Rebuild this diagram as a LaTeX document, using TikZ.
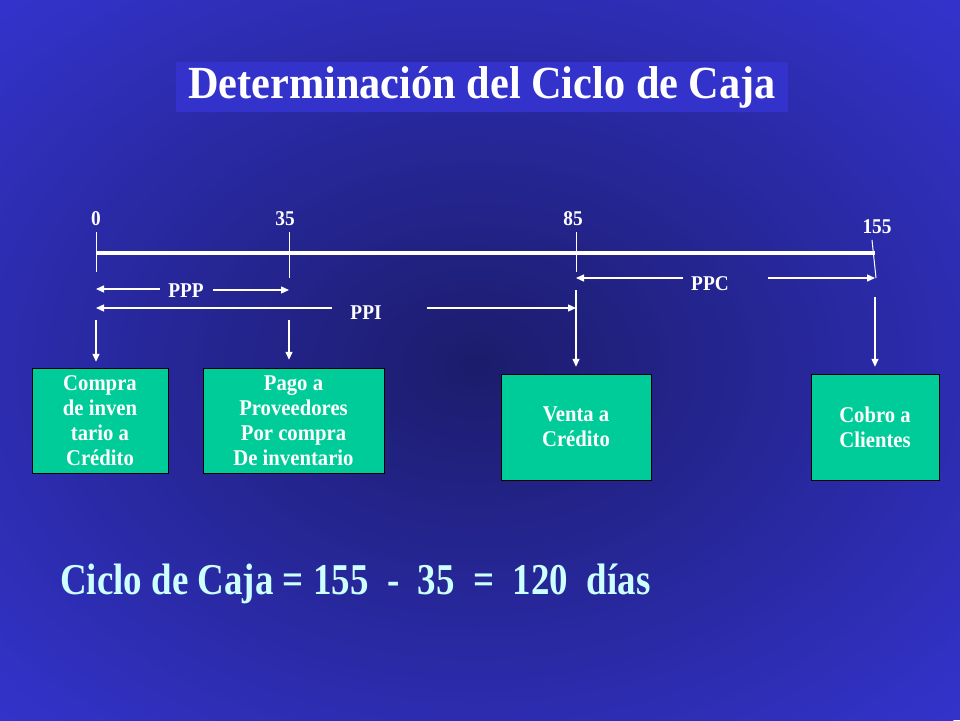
\documentclass[tikz,border=0pt]{standalone}
\usepackage{fontspec}
\setmainfont{Liberation Serif}[FakeStretch=0.92]
\newfontfamily\narrowserif{Liberation Serif}[FakeStretch=0.84]
\usepackage{tikz}
\usetikzlibrary{calc}
\usetikzlibrary{arrows.meta}
\definecolor{slideblue}{RGB}{51,51,204}
\definecolor{shadowblue}{RGB}{28,28,108}
\definecolor{boxgreen}{RGB}{0,204,153}
\definecolor{lightcyan}{RGB}{204,255,255}

\begin{document}
\begin{tikzpicture}[x=1pt, y=-1pt,
    every node/.style={text=white, font=\fontsize{21}{25}\selectfont\bfseries},
    eventbox/.style={draw=black, fill=boxgreen, align=center, inner sep=0pt,
      font=\fontsize{22.5}{25}\selectfont\bfseries},
    ticklines/.style={draw=white, line width=1pt},
    spanarrow/.style={draw=white, line width=1.3pt, -{Triangle[length=8pt,width=7pt]}}]
  \useasboundingbox (0,0) rectangle (960,720);
  \fill[slideblue] (0,0) rectangle (960,720);
  \begin{scope}
    \clip (0,0) rectangle (960,720);
    \shade[inner color=shadowblue, outer color=slideblue] (475,365) ellipse (680 and 500);
  \end{scope}
  \node[fill=slideblue, minimum width=612, minimum height=50,
    font=\fontsize{46}{50}\selectfont\bfseries] (title) at (482,87) {Determinación del Ciclo de Caja};
  % time line
  \coordinate (t0) at (96,253);
  \coordinate (t35) at (289,253);
  \coordinate (t85) at (576,253);
  \coordinate (t155) at (875,253);
  \draw[white, line width=4pt] (t0) -- (t155);
  \draw[ticklines] (t0) ++(0,-21) -- ++(0,40);
  \draw[ticklines] (t35) ++(0,-21) -- ++(0,46);
  \draw[ticklines] (t85) ++(0,-21) -- ++(0,40);
  \draw[ticklines] (t155) ++(-3,-13) -- ++(4,38);
  \node (n0) at (96,219) {0};
  \node (n35) at (285,219) {35};
  \node (n85) at (573,219) {85};
  \node (n155) at (877,227) {155};
  % periods
  \node (ppp) at (186,291) {PPP};
  \coordinate (pppL) at (160,289);
  \coordinate (pppR) at (213,290);
  \draw[spanarrow] (pppL) -- (pppL -| t0);
  \draw[spanarrow] (pppR) -- (pppR -| t35);
  \node (ppi) at (366,313) {PPI};
  \coordinate (ppiL) at (332,308);
  \coordinate (ppiR) at (427,308);
  \draw[spanarrow] (ppiL) -- (ppiL -| t0);
  \draw[spanarrow] (ppiR) -- (ppiR -| t85);
  \node (ppc) at (710,284) {PPC};
  \coordinate (ppcL) at (683,278);
  \coordinate (ppcR) at (768,278);
  \draw[spanarrow] (ppcL) -- (ppcL -| t85);
  \draw[spanarrow] (ppcR) -- (ppcR -| t155);
  % events
  \node[eventbox, minimum width=136, minimum height=105] (compra) at (100,420.5) {Compra\\de inven\\tario a\\Crédito};
  \node[eventbox, minimum width=181, minimum height=105] (pago) at (293.5,420.5) {Pago a\\Proveedores\\Por compra\\De inventario};
  \node[eventbox, minimum width=150, minimum height=106] (venta) at (576,427) {Venta a\\Crédito};
  \node[eventbox, minimum width=128, minimum height=106] (cobro) at (875,427) {Cobro a\\Clientes};
  \coordinate (d0) at (96,320);
  \coordinate (d35) at (289,320);
  \coordinate (d85) at (576,290);
  \coordinate (d155) at (875,297);
  \draw[spanarrow, shorten >=6pt] (d0) -- (d0 |- compra.north);
  \draw[spanarrow, shorten >=8pt] (d35) -- (d35 |- pago.north);
  \draw[spanarrow, shorten >=7pt] (d85) -- (d85 |- venta.north);
  \draw[spanarrow, shorten >=7pt] (d155) -- (d155 |- cobro.north);
  \node[text=lightcyan, inner sep=0pt, anchor=base west,
    font=\narrowserif\fontsize{44}{50}\selectfont\bfseries] (cycle) at (60,594) {Ciclo de Caja = 155 \ - \ 35 \ = \ 120 \ días};
\end{tikzpicture}
\end{document}
